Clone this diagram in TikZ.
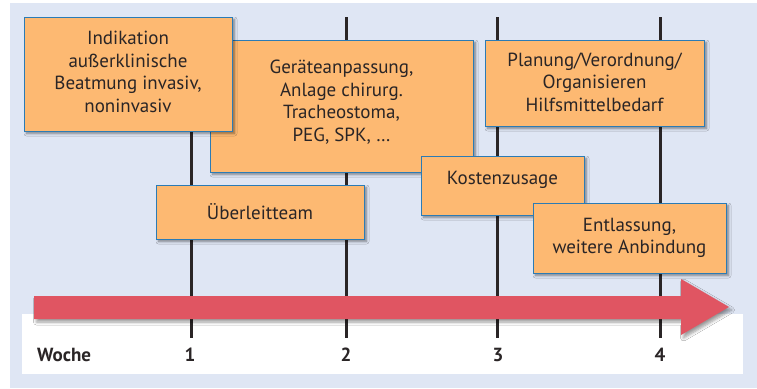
\documentclass[tikz,border=0pt]{standalone}
\usepackage{fontspec}
\setmainfont{PT Sans}
\usetikzlibrary{shadows.blur}
\definecolor{panel}{HTML}{DFE6F4}
\definecolor{boxfill}{HTML}{FDB972}
\definecolor{boxline}{HTML}{2B7BB5}
\definecolor{arrowred}{HTML}{E05562}
\definecolor{ink}{HTML}{2A2526}
\tikzset{
  px/.style={x=1pt,y=-1pt},
  box/.style={draw=boxline, line width=0.9pt, fill=boxfill, inner sep=0pt,
    blur shadow={shadow xshift=2.5pt, shadow yshift=-2.5pt, shadow blur steps=6, shadow opacity=45, shadow blur radius=2.5pt}},
  txt/.style={text=ink, align=center, inner sep=0pt, font=\fontsize{19}{22.6}\selectfont},
  weekline/.style={draw=ink, line width=3pt},
  axislabel/.style={text=ink, inner sep=0pt, font=\fontsize{19}{22}\selectfont\bfseries}
}
\begin{document}
\begin{tikzpicture}[px]
\useasboundingbox (0,0) rectangle (757,388);
\fill[white] (0,0) rectangle (757,388);
\fill[panel] (10,3) rectangle (757,388);
\fill[white] (22,314) rectangle (743,374);
% week lines
\foreach \x in {191,346,497,660} \draw[weekline] (\x,17) -- (\x,338);
% boxes
\node[box, minimum width=263pt, minimum height=132pt] (b2) at (341.5,106) {};
\node[txt] (t2) at (341.5,102) {Geräteanpassung,\\Anlage chirurg.\\Tracheostoma,\\PEG, SPK, \dots};
\node[box, minimum width=208pt, minimum height=114pt] (b1) at (128,74) {};
\node[txt] (t1) at (128,72) {Indikation\\außerklinische\\Beatmung invasiv,\\noninvasiv};
\node[box, minimum width=208pt, minimum height=54pt] (b3) at (260,212) {};
\node[txt] (t3) at (260,212) {Überleitteam};
\node[box, minimum width=219pt, minimum height=86pt] (b6) at (594.5,83) {};
\node[txt] (t6) at (594.5,82) {Planung/Verordnung/\\Organisieren\\Hilfsmittelbedarf};
\node[box, minimum width=163pt, minimum height=59pt] (b4) at (502.5,185.5) {};
\node[txt] (t4) at (502.5,180) {Kostenzusage};
\node[box, minimum width=193pt, minimum height=70pt] (b5) at (629.5,238) {};
\node[txt] (t5) at (629.5,238) {Entlassung,\\weitere Anbindung};
% arrow
\fill[arrowred, blur shadow={shadow xshift=2.5pt, shadow yshift=-3pt, shadow blur steps=6, shadow opacity=40, shadow blur radius=3pt}]
  (34,296) -- (681,296) -- (681,279) -- (729,307) -- (681,335) -- (681,319) -- (34,319) -- cycle;
% axis labels
\node[axislabel, anchor=west] (woche) at (37,355) {Woche};
\node[axislabel] (w1) at (190,355) {1};
\node[axislabel] (w2) at (346,355) {2};
\node[axislabel] (w3) at (498,355) {3};
\node[axislabel] (w4) at (660,355) {4};
\end{tikzpicture}
\end{document}
